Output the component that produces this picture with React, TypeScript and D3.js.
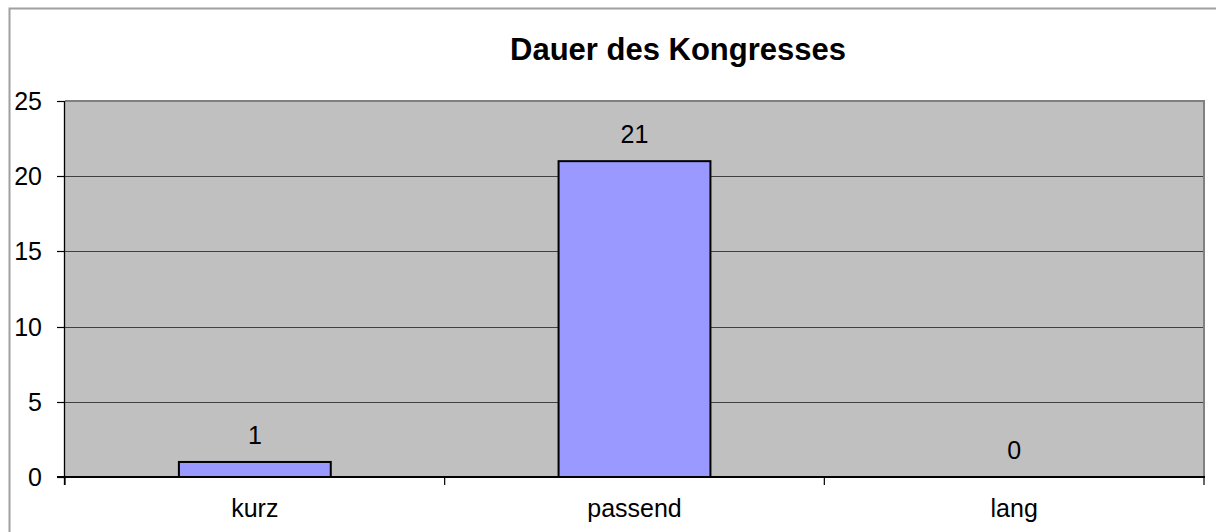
import React from "react";
import * as d3 from "d3";

const categories = ["kurz", "passend", "lang"];
const values = [1, 21, 0];
const yTicks = [0, 5, 10, 15, 20, 25];
const title = "Dauer des Kongresses";

const W = 1216;
const H = 532;
const plot = { left: 65, right: 1204, top: 101, bottom: 477 };
const font = "'Liberation Sans', Arial, sans-serif";

export default function App() {
  const x = d3.scaleBand<string>().domain(categories).range([plot.left, plot.right]).padding(0);
  const y = d3.scaleLinear().domain([0, 25]).range([plot.bottom, plot.top]);
  const bw = x.bandwidth() * 0.4;
  const boundaries = [plot.left, ...categories.map((c) => (x(c) as number) + x.bandwidth())];

  return (
    <div style={{ position: "fixed", left: 0, top: 0, width: W, height: H, background: "#fff" }}>
      <svg width={W} height={H} style={{ display: "block" }} fontFamily={font}>
        <rect x={0} y={0} width={W} height={H} fill="#fff" />
        <rect x={9.5} y={8.5} width={W + 20} height={H + 20} fill="none" stroke="#a0a0a0" strokeWidth={2} />
        <text x={678} y={60} textAnchor="middle" fontSize={31} fontWeight="bold" fill="#000">
          {title}
        </text>
        <rect x={plot.left} y={plot.top} width={plot.right - plot.left} height={plot.bottom - plot.top} fill="#c0c0c0" />
        {yTicks.filter((t) => t > 0 && t < 25).map((t) => (
          <line key={"g" + t} x1={plot.left} x2={plot.right} y1={Math.round(y(t)) + 0.5} y2={Math.round(y(t)) + 0.5} stroke="#404040" strokeWidth={1.2} />
        ))}
        <line x1={plot.left} x2={plot.right + 1} y1={plot.top} y2={plot.top} stroke="#808080" strokeWidth={2} />
        <line x1={plot.right} x2={plot.right} y1={plot.top} y2={plot.bottom} stroke="#808080" strokeWidth={2} />
        {categories.map((c, i) => {
          const cx = (x(c) as number) + x.bandwidth() / 2;
          const v = values[i];
          const top = y(v);
          return (
            <g key={c}>
              {v > 0 && (
                <rect x={cx - bw / 2} y={top} width={bw} height={plot.bottom - top} fill="#9999ff" stroke="#000" strokeWidth={2} />
              )}
              <text x={cx} y={top - 18} textAnchor="middle" fontSize={25} fill="#000">
                {v}
              </text>
              <text x={cx} y={517} textAnchor="middle" fontSize={25} fill="#000">
                {c}
              </text>
            </g>
          );
        })}
        <line x1={plot.left - 0.5} x2={plot.left - 0.5} y1={plot.top} y2={plot.bottom + 8} stroke="#000" strokeWidth={1.3} />
        <line x1={plot.left - 8} x2={plot.right + 1} y1={plot.bottom} y2={plot.bottom} stroke="#000" strokeWidth={2} />
        {yTicks.map((t) => (
          <g key={"t" + t}>
            <line x1={plot.left - 8} x2={plot.left} y1={Math.round(y(t)) + 0.5} y2={Math.round(y(t)) + 0.5} stroke="#000" strokeWidth={1.2} />
            <text x={42} y={y(t) + 9} textAnchor="end" fontSize={25} fill="#000">
              {t}
            </text>
          </g>
        ))}
        {boundaries.map((b, i) => (
          <line key={"b" + i} x1={b} x2={b} y1={plot.bottom} y2={plot.bottom + 8} stroke="#000" strokeWidth={1.2} />
        ))}
      </svg>
    </div>
  );
}
